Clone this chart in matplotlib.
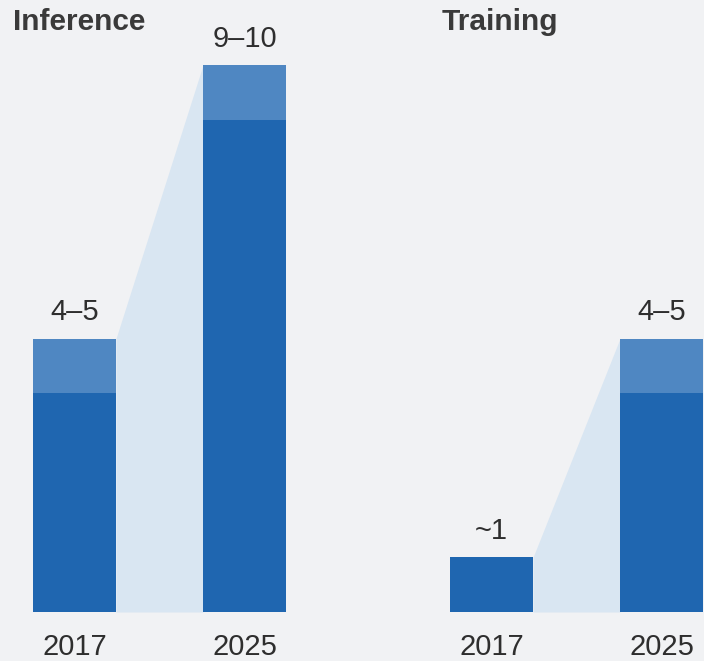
import numpy as np
import matplotlib.pyplot as plt

# values (low end of range, high end of range)
years = ['2017', '2025']
inference_low = [4, 9]
inference_high = [5, 10]
inference_labels = ['4–5', '9–10']
training_low = [1, 4]
training_high = [1, 5]
training_labels = ['~1', '4–5']

DARK = '#1f66b0'
LIGHT = '#4f87c2'
SHADE = '#d9e6f2'
BG = '#f1f2f4'
TXT = '#2e2e2e'

plt.rcParams['font.family'] = ['Liberation Sans', 'DejaVu Sans']

fig = plt.figure(figsize=(7.04, 6.61), dpi=100, facecolor=BG)

W = 83 / 170  # bar width in units of bar spacing
bottom = 49 / 661
height = 11 * 54.7 / 661


def draw_panel(ax, low, high, labels, title, title_x):
    x = np.arange(len(years))
    ax.set_facecolor(BG)
    # shaded wedge between the two bars
    ax.fill_between([x[0] + W / 2, x[1] - W / 2], [0, 0], [high[0], high[1]],
                    color=SHADE, lw=0, zorder=1)
    ax.bar(x, low, width=W, color=DARK, zorder=2)
    ax.bar(x, np.array(high) - np.array(low), bottom=low, width=W, color=LIGHT, zorder=2)
    for xi, h, lab in zip(x, high, labels):
        ax.text(xi, h + 0.22, lab, ha='center', va='bottom', fontsize=21, color=TXT)
    ax.set_ylim(0, 11)
    ax.set_xticks(x)
    ax.set_xticklabels(years, fontsize=21, color=TXT)
    ax.tick_params(axis='x', length=0, pad=15)
    ax.set_yticks([])
    for s in ax.spines.values():
        s.set_visible(False)
    fig.text(title_x, 1 - 22 / 661, title, fontsize=21.5, fontweight='bold',
             color='#3a3a3a', ha='left', va='center')


ax1 = fig.add_axes([0, bottom, 352 / 704, height])
ax1.set_xlim(-74.5 / 170, (352 - 74.5) / 170)
draw_panel(ax1, inference_low, inference_high, inference_labels, 'Inference', 13 / 704)

ax2 = fig.add_axes([352 / 704, bottom, 352 / 704, height])
ax2.set_xlim(-139.5 / 170, (352 - 139.5) / 170)
draw_panel(ax2, training_low, training_high, training_labels, 'Training', 442 / 704)

fig.savefig('out.png', dpi=100, facecolor=BG)
